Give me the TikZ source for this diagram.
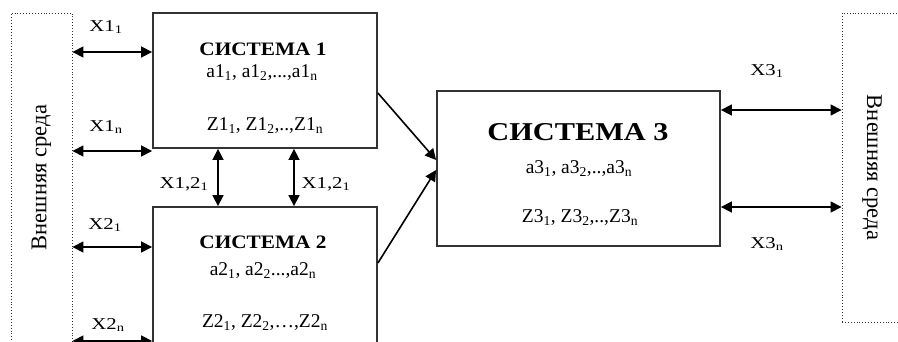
\documentclass[tikz,border=0pt]{standalone}
\usepackage{fontspec}
\setmainfont{Liberation Serif}
\newfontfamily\lblfont[FakeStretch=1.25]{Liberation Serif}
\newfontfamily\titlefont[FakeStretch=1.12]{Liberation Serif}
\newfontfamily\bigtitlefont[FakeStretch=1.18]{Liberation Serif}
\usetikzlibrary{arrows.meta, positioning, calc}
\tikzset{
    sysbox/.style={rectangle, draw=black!80, line width=1.8pt,
                   minimum width=224pt, inner sep=0pt},
    envbox/.style={rectangle, draw=black!80, dotted, line width=0.9pt,
                   inner sep=0pt},
    biarr/.style={arrows={Triangle[length=11pt, width=11pt]-Triangle[length=11pt, width=11pt]},
                  line width=1.6pt},
    arr/.style={arrows={-Triangle[length=11pt, width=11pt]}, line width=1.6pt},
    lbl/.style={font=\lblfont\fontsize{16.6}{19}\selectfont, anchor=base, inner sep=0pt},
    systxt/.style={font=\fontsize{19.5}{22}\selectfont, anchor=base, inner sep=0pt},
    systitle/.style={font=\titlefont\fontsize{19}{22}\selectfont\bfseries, anchor=base,
                     inner sep=0pt},
    envtxt/.style={font=\fontsize{22.5}{24}\selectfont, inner sep=0pt},
}
\newcommand{\sub}[1]{\textsubscript{#1}}

\begin{document}
\begin{tikzpicture}[x=1pt, y=-1pt]
    \useasboundingbox (0,0) rectangle (898,341);
    \clip (0,0) rectangle (898,341);

    % Environment
    \node[envbox, minimum width=61pt, minimum height=329pt] (envL) at (41.5,177.5) {};
    \node[envtxt, rotate=90] (envLtxt) at (envL.center) {Внешняя среда};
    \node[envbox, minimum width=60pt, minimum height=309pt] (envR) at (872,167.5) {};
    \node[envtxt, rotate=-90] (envRtxt) at (envR.center) {Внешняя среда};

    % Systems
    \node[sysbox, minimum height=135pt] (sys1) at (265,80.5) {};
    \node[sysbox, minimum height=173pt] (sys2) at (265,293.5) {};
    \node[sysbox, minimum width=283pt, minimum height=155pt] (sys3) at (578.5,168.5) {};

    % System 1 text
    \node[systitle] (s1title) at (263,55) {СИСТЕМА 1};
    \node[systxt] (s1a) at (262,77) {a1\sub{1}, a1\sub{2},...,a1\sub{n}};
    \node[systxt] (s1z) at (265,130) {Z1\sub{1}, Z1\sub{2},..,Z1\sub{n}};

    % System 2 text
    \node[systitle] (s2title) at (263,248) {СИСТЕМА 2};
    \node[systxt] (s2a) at (263,275) {a2\sub{1}, a2\sub{2}...,a2\sub{n}};
    \node[systxt] (s2z) at (265,327) {Z2\sub{1}, Z2\sub{2},…,Z2\sub{n}};

    % System 3 text
    \node[systitle, font=\bigtitlefont\fontsize{25.7}{28}\selectfont\bfseries] (s3title) at (578,140) {СИСТЕМА 3};
    \node[systxt] (s3a) at (579,173) {a3\sub{1}, a3\sub{2},..,a3\sub{n}};
    \node[systxt] (s3z) at (580,222) {Z3\sub{1}, Z3\sub{2},..,Z3\sub{n}};

    % Inputs from the left environment
    \draw[biarr] (envL.east |- 0,52) -- (sys1.west |- 0,52);
    \node[lbl] (x11) at (106,31) {X1\sub{1}};
    \draw[biarr] (envL.east |- 0,151) -- (sys1.west |- 0,151);
    \node[lbl] (x1n) at (106,131) {X1\sub{n}};
    \draw[biarr] (envL.east |- 0,247) -- (sys2.west |- 0,247);
    \node[lbl] (x21) at (105,229) {X2\sub{1}};
    \draw[biarr] (envL.east |- 0,341) -- (sys2.west |- 0,341);
    \node[lbl] (x2n) at (108,329) {X2\sub{n}};

    % Links between system 1 and system 2
    \draw[biarr] (sys1.south -| 218,0) -- (sys2.north -| 218,0);
    \node[lbl] (x12a) at (184,188) {X1,2\sub{1}};
    \draw[biarr] (sys1.south -| 294,0) -- (sys2.north -| 294,0);
    \node[lbl] (x12b) at (326,188) {X1,2\sub{1}};

    % Into system 3
    \draw[arr] (sys1.east |- 0,93) -- (sys3.west |- 0,160);
    \draw[arr] (sys2.east |- 0,263) -- (sys3.west |- 0,170);

    % Outputs to the right environment
    \draw[biarr] (sys3.east |- 0,110) -- (envR.west |- 0,110);
    \node[lbl] (x31) at (767,75) {X3\sub{1}};
    \draw[biarr] (sys3.east |- 0,207) -- (envR.west |- 0,207);
    \node[lbl] (x3n) at (767,248) {X3\sub{n}};
\end{tikzpicture}
\end{document}
